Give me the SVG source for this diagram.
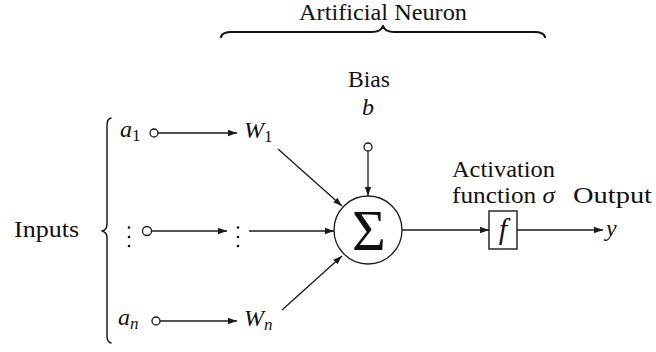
<svg xmlns="http://www.w3.org/2000/svg" width="656" height="352" viewBox="0 0 656 352">
<style>
text{font-family:"Liberation Serif","DejaVu Serif","Noto Serif",Tinos,"Nimbus Roman","FreeSerif",Times,serif;font-size:24px;fill:#111}
.it{font-style:italic}
.sub{font-size:17px}
.ln{stroke:#1a1a1a;stroke-width:1.3;fill:none}
.br{stroke:#111;fill:none;stroke-linecap:round;stroke-linejoin:round}
.dot{fill:#fff;stroke:#1a1a1a;stroke-width:1.3}
</style>
<defs>
<marker id="ah" viewBox="0 0 10 10" refX="10" refY="5" markerWidth="9" markerHeight="9" markerUnits="userSpaceOnUse" orient="auto">
<path d="M0,1.5 L10,5 L0,8.5 Z" fill="#1a1a1a"/>
</marker>
</defs>
<rect width="656" height="352" fill="#fff"/>

<g id="title">
<text x="383" y="20" text-anchor="middle" textLength="168" lengthAdjust="spacingAndGlyphs">Artificial Neuron</text>
<path class="br" stroke-width="2.2" d="M221,37 Q222,32 232,32 L372,32 Q381,32 383,26 Q385,32 394,32 L534,32 Q544,32 545,37"/>
</g>

<g id="inputs">
<text x="14" y="237" textLength="65" lengthAdjust="spacingAndGlyphs">Inputs</text>
<path class="br" stroke-width="1.4" d="M111,118 Q107,119 107,125 L107,224 Q107,230 102,231 Q107,232 107,238 L107,336 Q107,342 111,343"/>
</g>

<g id="input-a1">
<text x="120" y="137" class="it">a<tspan class="sub" font-style="normal" dy="4">1</tspan></text>
<circle class="dot" cx="154" cy="133" r="4"/>
</g>
<g id="input-dots">
<circle cx="129" cy="227.5" r="1.3" fill="#111"/><circle cx="129" cy="237" r="1.3" fill="#111"/><circle cx="129" cy="246" r="1.3" fill="#111"/>
<circle class="dot" cx="147" cy="231" r="4.5"/>
</g>
<g id="input-an">
<text x="118" y="325" class="it">a<tspan class="sub" dy="4">n</tspan></text>
<circle class="dot" cx="156" cy="321" r="4"/>
</g>

<g id="weight-w1">
<text x="244" y="138" class="it">W<tspan class="sub" font-style="normal" dy="4">1</tspan></text>
</g>
<g id="weight-dots">
<circle cx="238" cy="227.5" r="1.3" fill="#111"/><circle cx="238" cy="237" r="1.3" fill="#111"/><circle cx="238" cy="246" r="1.3" fill="#111"/>
</g>
<g id="weight-wn">
<text x="244" y="326" class="it">W<tspan class="sub" dy="4">n</tspan></text>
</g>

<g id="bias">
<text x="369" y="87" text-anchor="middle" textLength="42" lengthAdjust="spacingAndGlyphs">Bias</text>
<text x="368" y="115" text-anchor="middle" class="it">b</text>
<circle class="dot" cx="368" cy="147" r="4"/>
</g>

<g id="sum">
<circle cx="368" cy="230" r="34" fill="#fff" stroke="#1a1a1a" stroke-width="1.3"/>
<text x="369" y="250" text-anchor="middle" style="font-size:58px">Σ</text>
</g>

<g id="activation">
<text x="452" y="177" textLength="103" lengthAdjust="spacingAndGlyphs">Activation</text>
<text x="452" y="203" textLength="103" lengthAdjust="spacingAndGlyphs">function <tspan class="it">σ</tspan></text>
<rect x="489" y="211" width="28" height="38" fill="#fff" stroke="#1a1a1a" stroke-width="1.4"/>
<text x="503" y="239" text-anchor="middle" class="it" style="font-size:30px">f</text>
</g>

<g id="output">
<text x="573" y="203" textLength="79" lengthAdjust="spacingAndGlyphs">Output</text>
<text x="606" y="236" class="it">y</text>
</g>

<g id="connectors">
<line class="ln" x1="158" y1="133" x2="237" y2="133" marker-end="url(#ah)"/>
<line class="ln" x1="151.5" y1="231" x2="227" y2="231" marker-end="url(#ah)"/>
<line class="ln" x1="160" y1="321" x2="237" y2="321" marker-end="url(#ah)"/>
<line class="ln" x1="278" y1="149" x2="342" y2="206" marker-end="url(#ah)"/>
<line class="ln" x1="249" y1="231" x2="334" y2="231" marker-end="url(#ah)"/>
<line class="ln" x1="282" y1="310" x2="342" y2="256" marker-end="url(#ah)"/>
<line class="ln" x1="368" y1="151" x2="368" y2="196" marker-end="url(#ah)"/>
<line class="ln" x1="402" y1="230" x2="489" y2="230" marker-end="url(#ah)"/>
<line class="ln" x1="517" y1="230" x2="603" y2="230" marker-end="url(#ah)"/>
</g>
</svg>
